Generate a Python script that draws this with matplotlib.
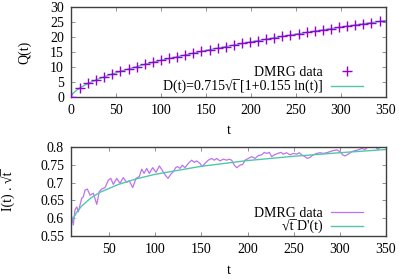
import numpy as np
import matplotlib
matplotlib.use("Agg")
import matplotlib.pyplot as plt

plt.rcParams.update({
    "font.family": ["Liberation Serif", "DejaVu Serif"],
    "mathtext.fontset": "stix",
    "font.size": 10,
})

# ---- top panel: Q(t) DMRG data and fit D(t) ----
t_q = [0, 10, 19, 28, 37, 46, 55, 64, 73, 82, 91, 100, 109, 118, 127, 136, 145,
       154, 163, 172, 181, 190, 199, 208, 217, 226, 235, 244, 253, 262, 271, 280,
       289, 298, 307, 316, 325, 334, 343]
q_data = [0.0, 3.07, 4.54, 5.74, 6.79, 7.73, 8.60, 9.41, 10.17, 10.90, 11.59,
          12.26, 12.89, 13.51, 14.11, 14.69, 15.25, 15.80, 16.34, 16.86, 17.37,
          17.87, 18.36, 18.84, 19.32, 19.78, 20.24, 20.68, 21.13, 21.56, 21.99,
          22.41, 22.83, 23.24, 23.65, 24.05, 24.45, 24.84, 25.22]

t_fit = [1, 2, 4, 6, 8, 10, 15, 20, 30, 40, 60, 80, 100, 150, 200, 250, 300, 350]
d_fit = [0.715, 1.12, 1.74, 2.24, 2.67, 3.07, 3.93, 4.68, 5.98, 7.11, 9.05,
         10.74, 12.26, 15.56, 18.42, 20.98, 23.33, 25.52]

# ---- bottom panel: I(t)*sqrt(t) DMRG data and sqrt(t) D'(t) ----
t_i = [8.5, 9.3, 11, 12.8, 14.7, 16.4, 20.1, 21.8, 23.7, 26.2, 29.1, 32.7, 36.4,
       39.2, 41.8, 45.4, 49, 51.6, 54.4, 58.1, 61.6, 65.2, 68.9, 71.7, 75.4, 79,
       82.6, 85.2, 87.7, 90.6, 93.4, 97.1, 100.7, 104.3, 107.9, 110.8, 113.7,
       116.6, 119.5, 122, 124.2, 126.7, 129.2, 132.1, 135.7, 139.4, 142.2, 144.8,
       148.4, 150.9, 153.8, 157.4, 161.1, 163.9, 166.5, 170.1, 173.7, 177.4,
       179.9, 182.8, 185.6, 188.2, 191.8, 194.7, 197.2, 200.8, 204.5, 208.1,
       211.6, 215.3, 218.2, 220.7, 223.6, 226.2, 229, 232.7, 236.3, 238.8, 242.4,
       246, 249.6, 253.3, 256.1, 258.7, 262.3, 264.8, 267.7, 271.3, 275, 278.6,
       282.1, 285.8, 289.4, 293, 296.7, 300.3, 303.2, 305.7, 309.3, 313, 316.5,
       320.1, 323.8, 327.4, 331, 334.6, 338.2, 341.1, 343.6, 347.2, 350]
i_data = [0.609, 0.604, 0.581, 0.623, 0.632, 0.618, 0.656, 0.660, 0.679, 0.682,
          0.665, 0.670, 0.639, 0.675, 0.682, 0.686, 0.707, 0.712, 0.695, 0.712,
          0.698, 0.714, 0.701, 0.705, 0.686, 0.712, 0.717, 0.738, 0.726, 0.740,
          0.726, 0.742, 0.729, 0.747, 0.733, 0.721, 0.712, 0.723, 0.731, 0.742,
          0.745, 0.740, 0.749, 0.742, 0.754, 0.763, 0.757, 0.761, 0.754, 0.745,
          0.754, 0.763, 0.768, 0.763, 0.768, 0.761, 0.766, 0.763, 0.766, 0.763,
          0.749, 0.742, 0.749, 0.751, 0.763, 0.768, 0.773, 0.768, 0.776, 0.778,
          0.785, 0.782, 0.785, 0.773, 0.778, 0.782, 0.785, 0.780, 0.784, 0.778,
          0.782, 0.780, 0.784, 0.778, 0.773, 0.768, 0.771, 0.778, 0.782, 0.784,
          0.782, 0.784, 0.787, 0.790, 0.792, 0.787, 0.778, 0.775, 0.780, 0.787,
          0.790, 0.792, 0.796, 0.793, 0.801, 0.801, 0.803, 0.793, 0.799, 0.801,
          0.801]

t_der = [8, 10, 15, 20, 30, 40, 60, 80, 100, 150, 200, 250, 300, 350]
i_der = [0.584, 0.596, 0.618, 0.634, 0.657, 0.673, 0.695, 0.711, 0.7235,
         0.746, 0.762, 0.774, 0.784, 0.793]

purple = "#9400d3"
purple_line = "#c070f0"
teal = "#50c8a8"
sqrt_t = "\u221At\u0305"

fig = plt.figure(figsize=(3.99, 2.79), dpi=100)
ax1 = fig.add_axes([0.178, 0.652, 0.789, 0.3226])
ax2 = fig.add_axes([0.178, 0.154, 0.789, 0.319])

ax1.plot(t_q, q_data, linestyle="none", marker="+", markersize=7,
         markeredgewidth=1.0, color=purple, label="DMRG data", zorder=3)
ax1.plot(t_fit, d_fit, color=teal, linewidth=1.0,
         label="D(t)=0.715" + sqrt_t + " [1+0.155 ln(t)]", zorder=2)
ax1.set_xlim(0, 350)
ax1.set_ylim(0, 30)
ax1.set_xticks(range(0, 351, 50))
ax1.set_yticks(range(0, 31, 5))
ax1.set_xlabel("t")
ax1.set_ylabel("Q(t)")
ax1.xaxis.set_label_coords(0.5, -0.30)
ax1.yaxis.set_label_coords(-0.126, 0.5)
ax1.legend(loc="lower right", bbox_to_anchor=(0.955, -0.06), frameon=False,
           markerfirst=False, borderpad=0.1, handlelength=2.3,
           handletextpad=0.6, labelspacing=0.05)

ax2.plot(t_i, i_data, color=purple_line, linewidth=0.9, label="DMRG data")
ax2.plot(t_der, i_der, color=teal, linewidth=1.0,
         label=sqrt_t + " D'(t)")
ax2.set_xlim(8.5, 350)
ax2.set_ylim(0.55, 0.8)
ax2.set_xticks(range(50, 351, 50))
ax2.set_yticks([0.55, 0.6, 0.65, 0.7, 0.75, 0.8])
ax2.set_yticklabels(["0.55", "0.6", "0.65", "0.7", "0.75", "0.8"])
ax2.set_xlabel("t")
ax2.set_ylabel("I(t) . " + sqrt_t)
ax2.xaxis.set_label_coords(0.5, -0.31)
ax2.yaxis.set_label_coords(-0.175, 0.5)
ax2.legend(loc="lower right", bbox_to_anchor=(0.955, -0.075), frameon=False,
           markerfirst=False, borderpad=0.1, handlelength=2.3,
           handletextpad=0.6, labelspacing=0.0)

for ax in (ax1, ax2):
    ax.tick_params(direction="in", top=True, right=True, length=3,
                   width=0.6, pad=5, color="#808080")
    for s in ax.spines.values():
        s.set_linewidth(1.0)
        s.set_color("#404040")

fig.savefig("out.png", dpi=100)
